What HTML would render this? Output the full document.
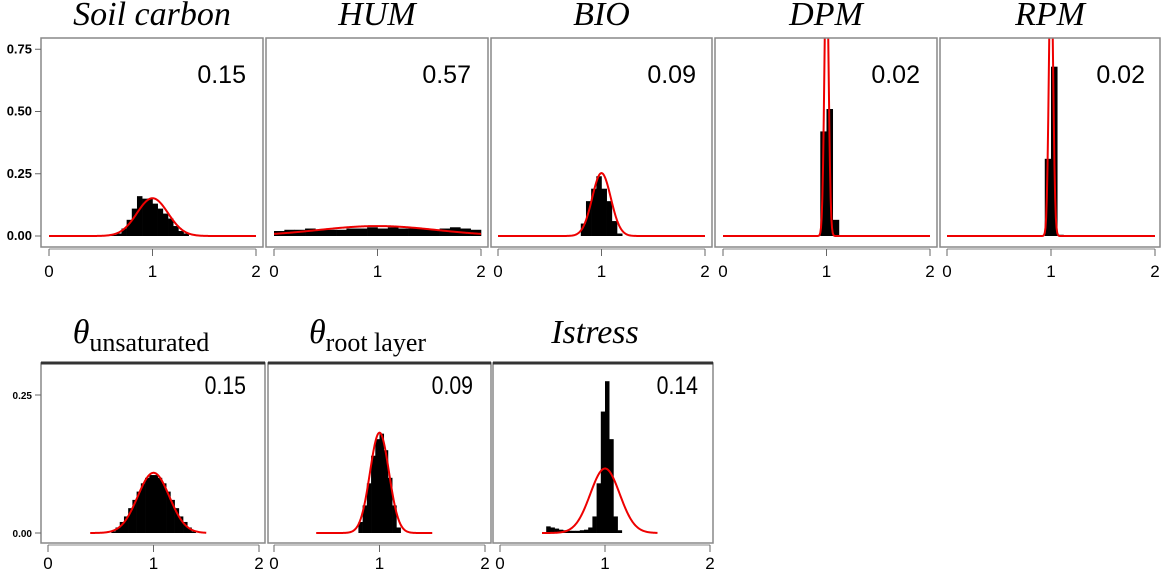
<!DOCTYPE html>
<html><head><meta charset="utf-8">
<style>
body{margin:0;background:#fff;width:1162px;height:572px;overflow:hidden}
svg{display:block}
.tl{font-family:"Liberation Serif",serif;font-style:italic;font-size:34px}
.tn{font-family:"Liberation Serif",serif;font-size:26px}
.num{font-family:"Liberation Sans",sans-serif;font-size:25px}
.xt{font-family:"Liberation Sans",sans-serif;font-size:17px}
.yt{font-family:"Liberation Sans",sans-serif;font-size:13px;font-weight:bold}
.yt2{font-family:"Liberation Sans",sans-serif;font-size:10px;font-weight:bold}
</style></head><body>
<svg id="chart" width="1162" height="572"></svg>
<script>
// ---- data ----
const panelNames = ["Soil carbon","HUM","BIO","DPM","RPM","unsaturated","root layer","Istress"];
const sdValues = [0.15,0.57,0.09,0.02,0.02,0.15,0.09,0.14];
const binStarts = [0.6,0,0.8,0.94,0.94,0.6,0.8,0.44];
const binWidths = [0.05,0.1,0.05,0.06,0.06,0.04,0.04,0.04];
const hSoil = [0.005,0.01,0.03,0.065,0.11,0.16,0.15,0.15,0.13,0.11,0.09,0.07,0.04,0.02,0.01];
const hHum = [0.02,0.025,0.025,0.03,0.025,0.025,0.025,0.03,0.03,0.035,0.03,0.035,0.03,0.03,0.03,0.025,0.03,0.035,0.03,0.025];
const hBio = [0.05,0.14,0.19,0.24,0.19,0.14,0.06,0.01];
const hDpm = [0.42,0.51,0.065];
const hRpm = [0.31,0.68,0.005];
const hUnsat = [0.003,0.01,0.02,0.03,0.045,0.06,0.075,0.09,0.1,0.105,0.105,0.1,0.09,0.075,0.06,0.045,0.03,0.02,0.01,0.003];
const hRoot = [0.02,0.05,0.09,0.14,0.17,0.18,0.15,0.1,0.05,0.01];
const hIstress = [0.012,0.01,0.008,0.006,0.005,0.004,0.004,0.004,0.005,0.006,0.01,0.03,0.09,0.22,0.275,0.17,0.03,0.005];
const heights = [hSoil,hHum,hBio,hDpm,hRpm,hUnsat,hRoot,hIstress];
const curveScale = [0.057,0.057,0.057,0.057,0.057,0.041,0.041,0.041];
const yTicksTop = [0,0.25,0.5,0.75];
const yTickLabelsTop = ["0.00","0.25","0.50","0.75"];
const yTicksBot = [0,0.25];
const yTickLabelsBot = ["0.00","0.25"];
const xTicks = [0,1,2];

const NS="http://www.w3.org/2000/svg";
const svg=document.getElementById('chart');
function mk(tag,attrs,parent){const e=document.createElementNS(NS,tag);for(const k in attrs)e.setAttribute(k,attrs[k]);(parent||svg).appendChild(e);return e;}

const layout=[
 {l:41,r:263,t:38,b:247,y0:236,yk:249,x0:49,xk:103.5,row:0,c0:0,c1:2},
 {l:266,r:488,t:38,b:247,y0:236,yk:249,x0:274,xk:103.5,row:0,c0:0,c1:2},
 {l:491,r:712,t:38,b:247,y0:236,yk:249,x0:498,xk:103.5,row:0,c0:0,c1:2},
 {l:715,r:937,t:38,b:247,y0:236,yk:249,x0:723,xk:103.5,row:0,c0:0,c1:2},
 {l:940,r:1160,t:38,b:247,y0:236,yk:249,x0:947,xk:104,row:0,c0:0,c1:2},
 {l:41,r:265,t:363,b:543,y0:533,yk:552,x0:48,xk:105.5,row:1,c0:0.4,c1:1.5},
 {l:268,r:491,t:363,b:543,y0:533,yk:552,x0:274,xk:105.5,row:1,c0:0.4,c1:1.5},
 {l:493,r:713,t:363,b:543,y0:533,yk:552,x0:500,xk:105,row:1,c0:0.4,c1:1.5}
];

layout.forEach((L,i)=>{
  const g=mk('g',{});
  
  
  const X=v=>L.x0+v*L.xk, Y=v=>L.y0-v*L.yk;
  const clip=mk('clipPath',{id:'c'+i},g);
  mk('rect',{x:L.l,y:L.t,width:L.r-L.l,height:L.b-L.t},clip);
  const bars=mk('g',{'clip-path':'url(#c'+i+')'},g);
  heights[i].forEach((h,j)=>{
    const s=binStarts[i]+j*binWidths[i];
    const r=mk('rect',{x:X(s),y:Y(h),width:binWidths[i]*L.xk+0.3,height:Math.max(0,L.y0-Y(h)),fill:'#000'},bars);
    
    
  });
  let d='';const n=300;
  for(let k=0;k<=n;k++){const v=L.c0+(L.c1-L.c0)*k/n;const sd=sdValues[i];
    const p=curveScale[i]*Math.exp(-0.5*((v-1)/sd)**2)/(sd*Math.sqrt(2*Math.PI));
    d+=(k?'L':'M')+X(v).toFixed(2)+','+Y(p).toFixed(2);}
  const c=mk('path',{d:d,fill:'none',stroke:'#ee0000','stroke-width':2},bars);
  
  
  mk('rect',{x:L.l,y:L.t,width:L.r-L.l,height:L.b-L.t,fill:'none',stroke:'#888','stroke-width':1.5},g);
  if(L.row===1) mk('line',{x1:L.l,x2:L.r,y1:L.t,y2:L.t,stroke:'#333','stroke-width':3},g);
  mk('line',{x1:X(0),x2:X(2),y1:L.b+2,y2:L.b+2,stroke:'#888'},g);
  xTicks.forEach(t=>{
    mk('line',{x1:X(t),x2:X(t),y1:L.b+2,y2:L.b+9,stroke:'#666'},g);
    const tx=mk('text',{x:X(t),y:L.row?L.b+26:L.b+30,'text-anchor':'middle',class:'xt'},g);
    tx.textContent=t;
    
    
  });
  const st=mk('text',{x:L.l+205,y:L.row?L.t+31:L.t+45,'text-anchor':'end',class:'num'},g);
  st.textContent=sdValues[i].toFixed(2);
  if(L.row===1) st.setAttribute('transform','translate('+(L.l+205)+',0) scale(0.85,1) translate('+(-(L.l+205))+',0)');
  
  
  if(i===0||i===5){
    const tk=i?yTicksBot:yTicksTop, tl=i?yTickLabelsBot:yTickLabelsTop;
    tk.forEach((t,j)=>{
      mk('line',{x1:L.l-6,x2:L.l,y1:Y(t),y2:Y(t),stroke:'#666'},g);
      const ty=mk('text',{x:L.l-9,y:Y(t)+4,'text-anchor':'end',class:i?'yt2':'yt'},g);
      ty.textContent=tl[j];
      
      
    });
  }
  const cx=(L.l+L.r)/2;
  const tt=mk('text',{x:cx,y:L.row?343:25,'text-anchor':'middle'},g);
  
  
  if(i===5||i===6){
    const a=document.createElementNS(NS,'tspan');a.setAttribute('class','tl');a.setAttribute('font-size','38');a.textContent='θ';tt.appendChild(a);
    const b=document.createElementNS(NS,'tspan');b.setAttribute('class','tn');b.setAttribute('font-size','24');b.setAttribute('dy','8');b.textContent=panelNames[i];tt.appendChild(b);
    tt.setAttribute('x',cx-12);
  } else {tt.setAttribute('class','tl');if(i===7){tt.setAttribute('font-size','37');tt.setAttribute('x',cx-8);}tt.textContent=panelNames[i];}
});
</script>
</body></html>
